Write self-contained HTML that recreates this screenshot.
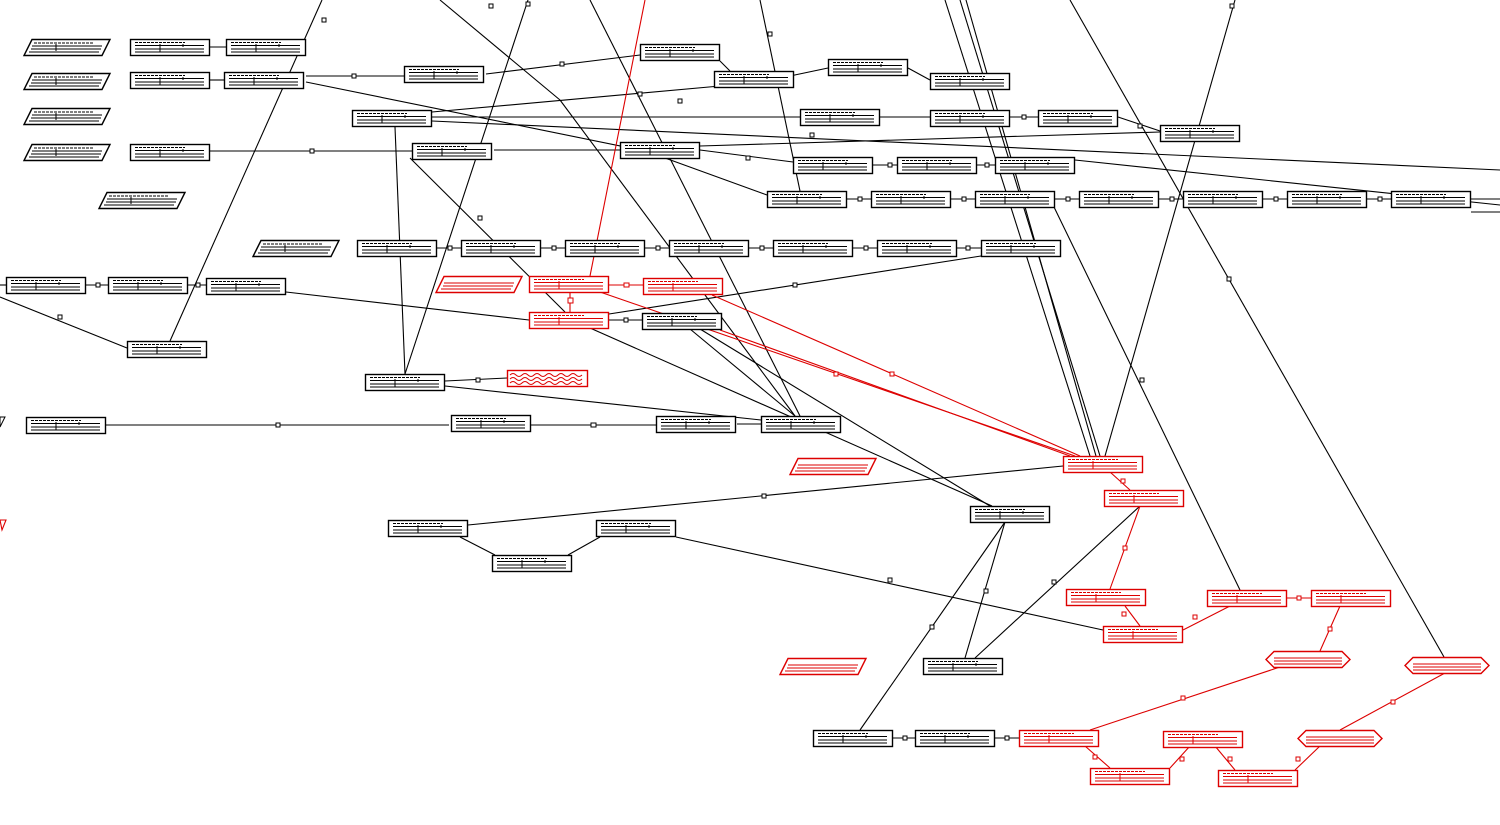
<!DOCTYPE html>
<html><head><style>html,body{margin:0;padding:0;background:#fff}svg{display:block}</style></head><body>
<svg width="1500" height="825" viewBox="0 0 1500 825" xmlns="http://www.w3.org/2000/svg" xmlns:xlink="http://www.w3.org/1999/xlink">
<defs>
<symbol id="n" overflow="visible"><rect x="0.5" y="0.5" width="79" height="16" fill="#fff" stroke="#000" stroke-width="1.4"/><line x1="5" y1="3.5" x2="55" y2="3.5" stroke="#000" stroke-width="1" stroke-dasharray="3 1"/><line x1="5" y1="6.5" x2="74" y2="6.5" stroke="#000"/><line x1="5" y1="10" x2="74" y2="10" stroke="#000"/><line x1="5" y1="13" x2="74" y2="13" stroke="#000"/><line x1="30" y1="5" x2="30" y2="13" stroke="#000"/><line x1="53" y1="5" x2="53" y2="8" stroke="#000"/></symbol>
<symbol id="r" overflow="visible"><rect x="0.5" y="0.5" width="79" height="16" fill="#fff" stroke="#d00" stroke-width="1.4"/><line x1="5" y1="3.5" x2="55" y2="3.5" stroke="#d00" stroke-dasharray="3 1"/><line x1="5" y1="6.5" x2="74" y2="6.5" stroke="#d00"/><line x1="5" y1="10" x2="74" y2="10" stroke="#d00"/><line x1="5" y1="13" x2="74" y2="13" stroke="#d00"/><line x1="30" y1="5" x2="30" y2="13" stroke="#d00"/></symbol>
<symbol id="p" overflow="visible"><polygon points="8,0.5 86,0.5 78,16.5 0,16.5" fill="#fff" stroke="#000" stroke-width="1.4"/><line x1="10" y1="4" x2="70" y2="4" stroke="#000" stroke-dasharray="3 1"/><line x1="8" y1="7" x2="78" y2="7" stroke="#000"/><line x1="7" y1="10" x2="77" y2="10" stroke="#000"/><line x1="5" y1="13" x2="75" y2="13" stroke="#000"/><line x1="32" y1="5" x2="32" y2="12" stroke="#000"/></symbol>
<symbol id="q" overflow="visible"><polygon points="8,0.5 86,0.5 78,16.5 0,16.5" fill="#fff" stroke="#d00" stroke-width="1.4"/><line x1="8" y1="7" x2="78" y2="7" stroke="#d00"/><line x1="7" y1="10" x2="77" y2="10" stroke="#d00"/><line x1="5" y1="13" x2="75" y2="13" stroke="#d00"/></symbol>
<symbol id="h" overflow="visible"><polygon points="8,0.5 76,0.5 84,8.5 76,16.5 8,16.5 0,8.5" fill="#fff" stroke="#d00" stroke-width="1.4"/><line x1="8" y1="7" x2="76" y2="7" stroke="#d00"/><line x1="8" y1="10" x2="76" y2="10" stroke="#d00"/><line x1="8" y1="13" x2="76" y2="13" stroke="#d00"/></symbol>
</defs>
<g stroke="#000" stroke-width="1.1" fill="none">
<line x1="322" y1="0" x2="170" y2="341"/><line x1="528" y1="0" x2="405" y2="374"/>
<line x1="440" y1="0" x2="560" y2="100"/><line x1="560" y1="100" x2="795" y2="416"/>
<line x1="590" y1="0" x2="800" y2="416"/><line x1="760" y1="0" x2="800" y2="191"/>
<line x1="945" y1="0" x2="1090" y2="456"/><line x1="960" y1="0" x2="1100" y2="456"/><line x1="966" y1="0" x2="1096" y2="456"/>
<line x1="1070" y1="0" x2="1444" y2="657"/><line x1="1054" y1="207" x2="1240" y2="590"/><line x1="1235" y1="0" x2="1105" y2="456"/>
<line x1="208" y1="47" x2="226" y2="47"/><line x1="210" y1="80" x2="224" y2="80"/><line x1="306" y1="76" x2="404" y2="76"/><line x1="306" y1="82" x2="640" y2="150"/>
<line x1="486" y1="74" x2="640" y2="55"/><line x1="720" y1="61" x2="730" y2="71"/><line x1="790" y1="76" x2="828" y2="68"/><line x1="908" y1="68" x2="930" y2="80"/>
<line x1="432" y1="117" x2="800" y2="117"/><line x1="432" y1="121" x2="1500" y2="170"/><line x1="880" y1="117" x2="930" y2="117"/><line x1="1010" y1="117" x2="1038" y2="117"/><line x1="1118" y1="117" x2="1160" y2="131"/>
<line x1="432" y1="112" x2="720" y2="86"/>
<line x1="210" y1="151" x2="412" y2="151"/><line x1="494" y1="150" x2="620" y2="150"/><line x1="700" y1="150" x2="793" y2="162"/><line x1="700" y1="146" x2="1160" y2="132"/><line x1="873" y1="165" x2="897" y2="165"/><line x1="977" y1="165" x2="995" y2="165"/>
<line x1="665" y1="158" x2="767" y2="195"/><line x1="1075" y1="160" x2="1500" y2="205"/>
<line x1="847" y1="199" x2="871" y2="199"/><line x1="951" y1="199" x2="975" y2="199"/><line x1="1055" y1="199" x2="1079" y2="199"/><line x1="1159" y1="199" x2="1183" y2="199"/><line x1="1263" y1="199" x2="1287" y2="199"/><line x1="1367" y1="199" x2="1391" y2="199"/><line x1="1471" y1="199" x2="1500" y2="199"/><line x1="1471" y1="212" x2="1500" y2="212"/>
<line x1="437" y1="248" x2="461" y2="248"/><line x1="541" y1="248" x2="565" y2="248"/><line x1="645" y1="248" x2="669" y2="248"/><line x1="749" y1="248" x2="773" y2="248"/><line x1="853" y1="248" x2="877" y2="248"/><line x1="957" y1="248" x2="981" y2="248"/>
<line x1="0" y1="285" x2="6" y2="285"/><line x1="86" y1="285" x2="108" y2="285"/><line x1="188" y1="285" x2="206" y2="285"/><line x1="286" y1="292" x2="529" y2="320"/><line x1="0" y1="297" x2="127" y2="348"/>
<line x1="609" y1="320" x2="642" y2="320"/><line x1="590" y1="328" x2="992" y2="506"/><line x1="700" y1="329" x2="990" y2="506"/><line x1="690" y1="329" x2="795" y2="416"/>
<line x1="981" y1="256" x2="609" y2="314"/><line x1="410" y1="158" x2="565" y2="312"/>
<line x1="445" y1="381" x2="507" y2="378"/><line x1="445" y1="386" x2="761" y2="420"/><line x1="106" y1="425" x2="449" y2="425"/><line x1="531" y1="425" x2="656" y2="425"/><line x1="737" y1="424" x2="761" y2="424"/>
<line x1="395" y1="127" x2="405" y2="374"/>
<line x1="468" y1="525" x2="1063" y2="466"/><line x1="460" y1="537" x2="495" y2="555"/><line x1="568" y1="555" x2="600" y2="537"/><line x1="676" y1="537" x2="1103" y2="630"/>
<line x1="1005" y1="522" x2="860" y2="730"/><line x1="1005" y1="522" x2="965" y2="658"/><line x1="1140" y1="506" x2="975" y2="658"/>
<line x1="893" y1="738" x2="915" y2="738"/><line x1="995" y1="738" x2="1019" y2="738"/>
</g>
<g stroke="#d00" stroke-width="1.1" fill="none">
<line x1="645" y1="0" x2="590" y2="276"/><line x1="609" y1="285" x2="643" y2="285"/><line x1="570" y1="293" x2="570" y2="312"/>
<line x1="600" y1="292" x2="1075" y2="456"/><line x1="720" y1="330" x2="1070" y2="456"/><line x1="712" y1="295" x2="1080" y2="456"/>
<line x1="1110" y1="472" x2="1130" y2="490"/><line x1="1140" y1="506" x2="1110" y2="589"/><line x1="1125" y1="606" x2="1140" y2="626"/><line x1="1183" y1="630" x2="1230" y2="606"/><line x1="1287" y1="598" x2="1311" y2="598"/><line x1="1340" y1="606" x2="1320" y2="651"/><line x1="1280" y1="667" x2="1090" y2="730"/><line x1="1085" y1="746" x2="1110" y2="768"/><line x1="1170" y1="768" x2="1190" y2="746"/><line x1="1215" y1="746" x2="1235" y2="770"/><line x1="1295" y1="770" x2="1320" y2="746"/><line x1="1445" y1="673" x2="1340" y2="730"/>
<polygon points="0,520 6,520 2,530" />
</g>
<g fill="#fff" stroke="#000" stroke-width="1">
<rect x="322" y="18" width="4" height="4"/><rect x="489" y="4" width="4" height="4"/><rect x="526" y="2" width="4" height="4"/><rect x="768" y="32" width="4" height="4"/><rect x="638" y="92" width="4" height="4"/><rect x="678" y="99" width="4" height="4"/><rect x="352" y="74" width="4" height="4"/><rect x="560" y="62" width="4" height="4"/><rect x="310" y="149" width="4" height="4"/><rect x="478" y="216" width="4" height="4"/><rect x="746" y="156" width="4" height="4"/><rect x="810" y="133" width="4" height="4"/><rect x="858" y="197" width="4" height="4"/><rect x="962" y="197" width="4" height="4"/><rect x="1066" y="197" width="4" height="4"/><rect x="1170" y="197" width="4" height="4"/><rect x="1274" y="197" width="4" height="4"/><rect x="1378" y="197" width="4" height="4"/><rect x="448" y="246" width="4" height="4"/><rect x="552" y="246" width="4" height="4"/><rect x="656" y="246" width="4" height="4"/><rect x="760" y="246" width="4" height="4"/><rect x="864" y="246" width="4" height="4"/><rect x="966" y="246" width="4" height="4"/><rect x="96" y="283" width="4" height="4"/><rect x="196" y="283" width="4" height="4"/><rect x="58" y="315" width="4" height="4"/><rect x="793" y="283" width="4" height="4"/><rect x="624" y="318" width="4" height="4"/><rect x="476" y="378" width="4" height="4"/><rect x="276" y="423" width="4" height="4"/><rect x="591" y="423" width="5" height="4"/><rect x="762" y="494" width="4" height="4"/><rect x="888" y="578" width="4" height="4"/><rect x="1052" y="580" width="4" height="4"/><rect x="984" y="589" width="4" height="4"/><rect x="930" y="625" width="4" height="4"/><rect x="1140" y="378" width="4" height="4"/><rect x="1227" y="277" width="4" height="4"/><rect x="903" y="736" width="4" height="4"/><rect x="1005" y="736" width="4" height="4"/><rect x="1138" y="124" width="4" height="4"/><rect x="1022" y="115" width="4" height="4"/><rect x="888" y="163" width="4" height="4"/><rect x="985" y="163" width="4" height="4"/><rect x="1230" y="4" width="4" height="4"/>
</g>
<g fill="#fff" stroke="#d00" stroke-width="1">
<rect x="624" y="283" width="5" height="4"/><rect x="568" y="298" width="5" height="5"/><rect x="834" y="372" width="4" height="4"/><rect x="890" y="372" width="4" height="4"/><rect x="1123" y="546" width="4" height="4"/><rect x="1121" y="479" width="4" height="4"/><rect x="1122" y="612" width="4" height="4"/><rect x="1193" y="615" width="4" height="4"/><rect x="1297" y="596" width="4" height="4"/><rect x="1328" y="627" width="4" height="4"/><rect x="1181" y="696" width="4" height="4"/><rect x="1391" y="700" width="4" height="4"/><rect x="1093" y="755" width="4" height="4"/><rect x="1180" y="757" width="4" height="4"/><rect x="1228" y="757" width="4" height="4"/><rect x="1296" y="757" width="4" height="4"/>
</g>
<use href="#n" x="130" y="39"/><use href="#n" x="226" y="39"/><use href="#n" x="130" y="72"/><use href="#n" x="224" y="72"/><use href="#n" x="404" y="66"/><use href="#n" x="640" y="44"/><use href="#n" x="714" y="71"/><use href="#n" x="828" y="59"/><use href="#n" x="930" y="73"/><use href="#n" x="352" y="110"/><use href="#n" x="800" y="109"/><use href="#n" x="930" y="110"/><use href="#n" x="1038" y="110"/><use href="#n" x="1160" y="125"/><use href="#n" x="130" y="144"/><use href="#n" x="412" y="143"/><use href="#n" x="620" y="142"/><use href="#n" x="793" y="157"/><use href="#n" x="897" y="157"/><use href="#n" x="995" y="157"/>
<use href="#n" x="767" y="191"/><use href="#n" x="871" y="191"/><use href="#n" x="975" y="191"/><use href="#n" x="1079" y="191"/><use href="#n" x="1183" y="191"/><use href="#n" x="1287" y="191"/><use href="#n" x="1391" y="191"/>
<use href="#n" x="357" y="240"/><use href="#n" x="461" y="240"/><use href="#n" x="565" y="240"/><use href="#n" x="669" y="240"/><use href="#n" x="773" y="240"/><use href="#n" x="877" y="240"/><use href="#n" x="981" y="240"/>
<use href="#n" x="6" y="277"/><use href="#n" x="108" y="277"/><use href="#n" x="206" y="278"/><use href="#n" x="642" y="313"/><use href="#n" x="127" y="341"/><use href="#n" x="365" y="374"/><use href="#n" x="451" y="415"/><use href="#n" x="656" y="416"/><use href="#n" x="761" y="416"/><use href="#n" x="26" y="417"/><use href="#n" x="970" y="506"/><use href="#n" x="388" y="520"/><use href="#n" x="596" y="520"/><use href="#n" x="492" y="555"/><use href="#n" x="923" y="658"/><use href="#n" x="813" y="730"/><use href="#n" x="915" y="730"/>
<use href="#p" x="24" y="39"/><use href="#p" x="24" y="73"/><use href="#p" x="24" y="108"/><use href="#p" x="24" y="144"/><use href="#p" x="99" y="192"/><use href="#p" x="253" y="240"/>
<polygon points="0,417 5,417 0,427" fill="none" stroke="#000"/>
<use href="#r" x="529" y="276"/><use href="#r" x="643" y="278"/><use href="#r" x="529" y="312"/><use href="#r" x="1063" y="456"/><use href="#r" x="1104" y="490"/><use href="#r" x="1066" y="589"/><use href="#r" x="1103" y="626"/><use href="#r" x="1207" y="590"/><use href="#r" x="1311" y="590"/><use href="#r" x="1019" y="730"/><use href="#r" x="1163" y="731"/><use href="#r" x="1090" y="768"/><use href="#r" x="1218" y="770"/>
<use href="#q" x="436" y="276"/><use href="#q" x="790" y="458"/><use href="#q" x="780" y="658"/>
<use href="#h" x="1266" y="651"/><use href="#h" x="1405" y="657"/><use href="#h" x="1298" y="730"/>
<rect x="507.5" y="370.5" width="80" height="16" fill="#fff" stroke="#d00" stroke-width="1.4"/>
<path d="M510 375 q3 -3 6 0 t6 0 t6 0 t6 0 t6 0 t6 0 t6 0 t6 0 t6 0 t6 0 t6 0 t6 0 M510 379 q3 -3 6 0 t6 0 t6 0 t6 0 t6 0 t6 0 t6 0 t6 0 t6 0 t6 0 t6 0 t6 0 M510 383 q3 -3 6 0 t6 0 t6 0 t6 0 t6 0 t6 0 t6 0 t6 0 t6 0 t6 0 t6 0 t6 0" fill="none" stroke="#d00"/>
</svg>
</body></html>
